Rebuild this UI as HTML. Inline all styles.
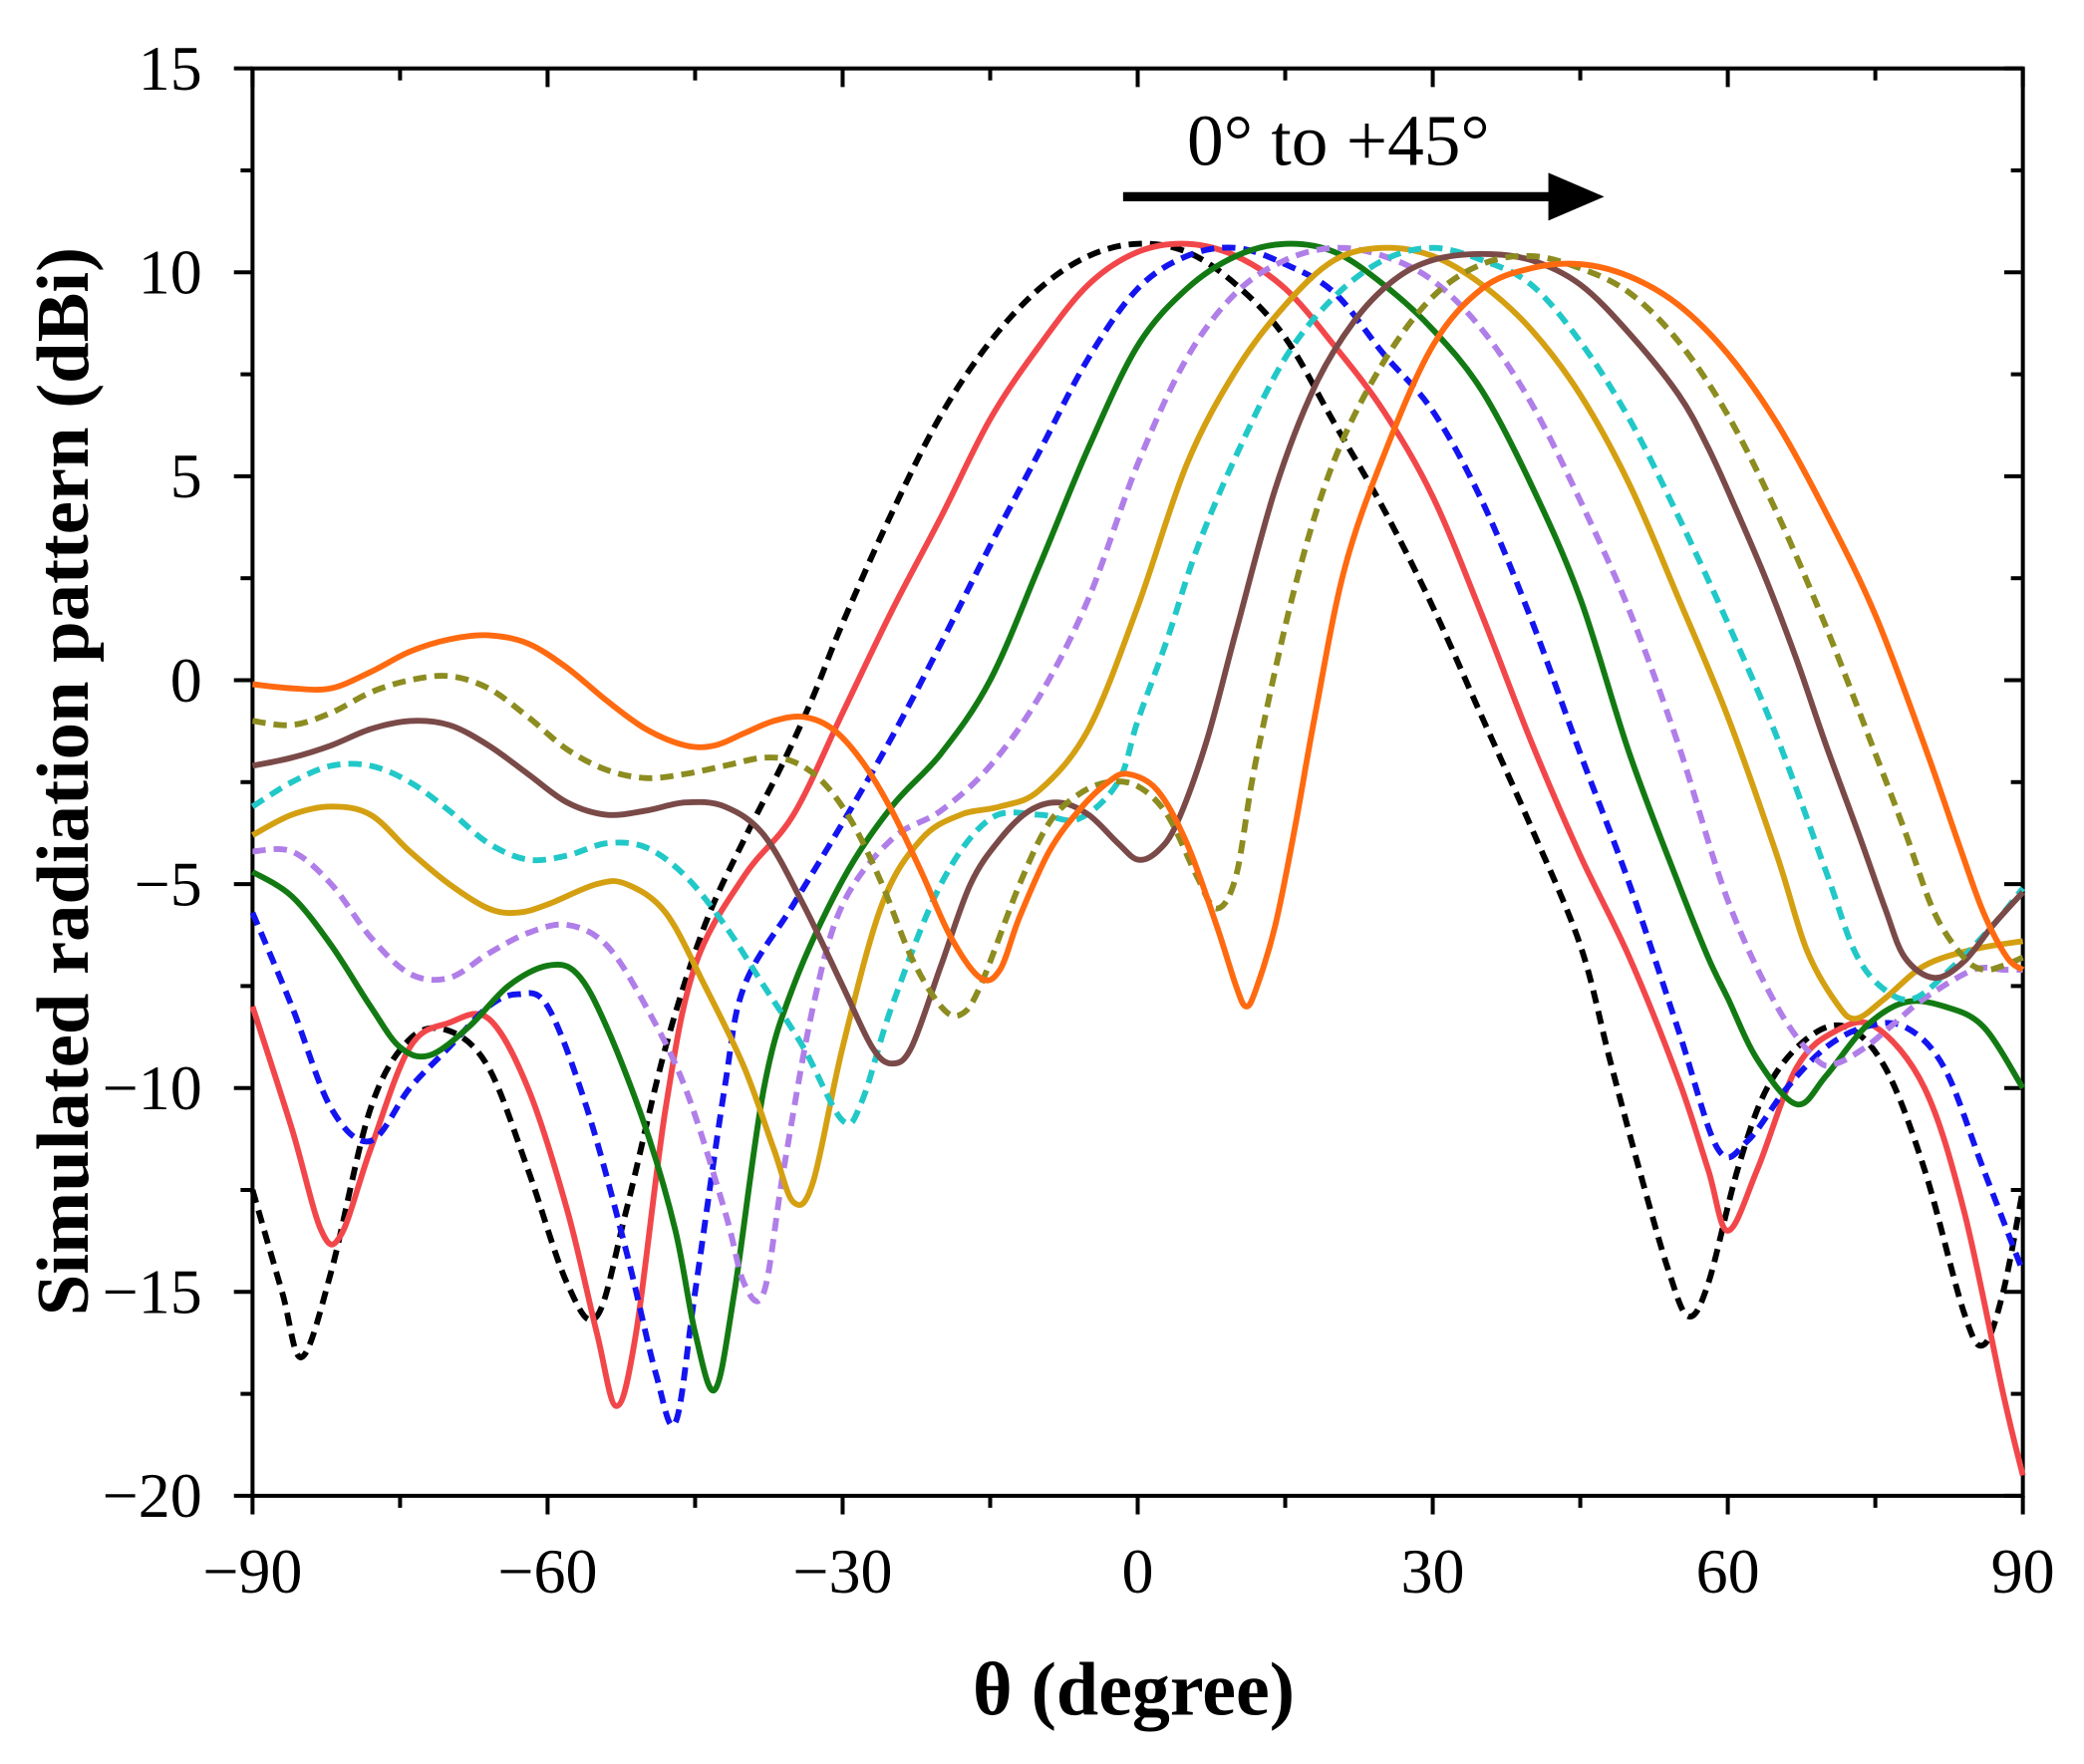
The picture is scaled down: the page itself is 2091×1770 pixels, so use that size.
<!DOCTYPE html>
<html><head><meta charset="utf-8"><style>
html,body{margin:0;padding:0;background:#fff;}
svg{display:block;}
text{font-family:"Liberation Serif",serif;fill:#000;}
</style></head><body>
<svg id="chart" width="2091" height="1770" viewBox="0 0 1568 1327.3" xmlns="http://www.w3.org/2000/svg">
<g id="axes"></g>
<g id="series"></g>
<g id="annot">
  <line x1="845" y1="148" x2="1175" y2="148" stroke="#000" stroke-width="7"/>
  <polygon points="1165,130 1207,148 1165,166" fill="#000"/>
  <text x="1007" y="124" font-size="55" text-anchor="middle">0° to +45°</text>
</g>
<text x="853" y="1290" font-size="57" font-weight="bold" text-anchor="middle">θ (degree)</text>
<text transform="translate(66,588) rotate(-90)" font-size="56" font-weight="bold" text-anchor="middle">Simulated radiation pattern (dBi)</text>
</svg>
<script>
const xTicks=[-90,-60,-30,0,30,60,90];
const yTicks=[15,10,5,0,-5,-10,-15,-20];
const seriesNames=["0deg","5deg","10deg","15deg","20deg","25deg","30deg","35deg","40deg","45deg"];
const seriesColors=["#000000","#f2474a","#1414f0","#137a13","#b07ee8","#d4a012","#22c8c8","#7a4a48","#8c8c20","#ff6a10"];
const seriesDashed=[true,false,true,false,true,false,true,false,true,false];
const s0=[[-90,-12.5],[-87,-15],[-85,-16.6],[-82,-14.5],[-78,-10.5],[-74,-8.8],[-70,-8.6],[-66,-9.5],[-62,-12],[-58,-14.8],[-55,-15.6],[-52,-13],[-48,-9],[-44,-6],[-40,-3.9],[-36,-2],[-33,-0.4],[-30,1.4],[-25,4.1],[-20,6.5],[-15,8.3],[-10,9.6],[-5,10.4],[0,10.7],[5,10.5],[10,9.7],[15,8.4],[20,6.3],[25,4.2],[30,1.8],[35,-0.9],[40,-3.6],[45,-6.5],[48,-9.3],[51,-12],[54,-14.5],[56,-15.6],[58,-14.8],[61,-12],[64,-10],[68,-8.8],[72,-8.5],[76,-9.5],[80,-12],[84,-15.5],[86,-16.3],[88,-15],[90,-12.5]];
const s1=[[-90,-8],[-86,-11],[-83,-13.5],[-81,-13.6],[-78,-11.5],[-74,-9],[-70,-8.4],[-66,-8.3],[-62,-10],[-58,-13],[-55,-16],[-53,-17.8],[-51,-16],[-48,-10.5],[-45,-7],[-40,-4.8],[-35,-3.3],[-30,-0.8],[-25,1.7],[-20,4],[-15,6.4],[-10,8.2],[-5,9.7],[0,10.5],[5,10.7],[10,10.4],[15,9.6],[20,8.2],[25,6.6],[30,4.5],[35,1.6],[40,-1.5],[45,-4.3],[50,-6.8],[55,-9.8],[58,-12],[60,-13.5],[63,-12],[67,-9.5],[71,-8.6],[75,-8.5],[80,-10],[84,-13],[88,-17.5],[90,-19.5]];
const s2=[[-90,-5.7],[-86,-8],[-82,-10.5],[-78,-11.3],[-74,-10],[-70,-9],[-66,-8],[-63,-7.7],[-60,-8],[-56,-10.5],[-52,-14],[-49,-17],[-47,-18.2],[-45,-15],[-42,-10],[-40,-7.5],[-35,-5.5],[-30,-3.5],[-25,-1.4],[-20,0.9],[-15,3.3],[-10,5.6],[-5,7.9],[0,9.6],[5,10.4],[10,10.6],[15,10.2],[20,9.5],[25,8],[30,6.6],[35,4.4],[40,1.5],[45,-1.8],[50,-5],[55,-8.6],[59,-11.5],[62,-11.3],[66,-10],[70,-9],[74,-8.5],[78,-8.5],[82,-9.5],[86,-12],[90,-14.5]];
const s3=[[-90,-4.7],[-86,-5.3],[-82,-6.5],[-78,-8],[-75,-9],[-72,-9.2],[-68,-8.5],[-64,-7.5],[-60,-7],[-57,-7.2],[-54,-8.5],[-50,-11],[-47,-13.5],[-45,-16],[-43,-17.4],[-41,-15],[-38,-10],[-35,-7.5],[-30,-4.9],[-25,-3.1],[-20,-1.8],[-15,0],[-10,2.8],[-5,5.7],[0,8.2],[5,9.6],[10,10.4],[15,10.7],[20,10.5],[25,9.7],[30,8.6],[35,7.1],[40,4.8],[45,2],[50,-1.8],[55,-5],[58,-6.8],[60,-7.8],[63,-9.3],[67,-10.4],[70,-9.7],[74,-8.5],[78,-7.9],[82,-8],[86,-8.5],[90,-10]];
const s4=[[-90,-4.2],[-86,-4.2],[-82,-5],[-78,-6.3],[-74,-7.2],[-70,-7.3],[-66,-6.7],[-62,-6.2],[-58,-6],[-54,-6.5],[-50,-8],[-46,-10],[-42,-13],[-40,-14.8],[-38,-15],[-36,-12],[-33,-8],[-30,-5.5],[-25,-3.9],[-20,-3.2],[-15,-2.1],[-10,-0.4],[-5,2],[0,5.3],[5,7.9],[10,9.5],[15,10.3],[20,10.6],[25,10.4],[30,9.8],[35,8.6],[40,6.8],[45,4.4],[50,1.7],[55,-1.6],[60,-5.4],[65,-8],[69,-9.3],[71,-9.4],[74,-9],[77,-8.4],[80,-7.8],[85,-7.1],[88,-7.1],[90,-7.1]];
const s5=[[-90,-3.8],[-86,-3.3],[-82,-3.1],[-78,-3.3],[-74,-4.2],[-70,-5],[-66,-5.6],[-63,-5.7],[-60,-5.5],[-55,-5],[-52,-5],[-48,-5.7],[-44,-7.5],[-40,-9.5],[-37,-11.5],[-35,-12.8],[-33,-12.3],[-30,-9],[-26,-5.5],[-22,-3.9],[-18,-3.3],[-14,-3.1],[-10,-2.7],[-5,-1.2],[0,1.8],[5,5.3],[10,7.6],[15,9.2],[20,10.3],[25,10.6],[30,10.4],[35,9.7],[40,8.6],[45,7],[50,4.8],[55,2],[60,-0.9],[65,-4.3],[68,-6.6],[71,-7.9],[73,-8.3],[76,-7.8],[80,-7],[85,-6.6],[90,-6.4]];
const s6=[[-90,-3.1],[-86,-2.5],[-82,-2.1],[-78,-2.1],[-74,-2.5],[-70,-3.2],[-66,-4],[-62,-4.4],[-58,-4.3],[-54,-4],[-50,-4.1],[-46,-4.8],[-42,-6],[-38,-7.5],[-34,-9],[-30,-10.8],[-28,-10.3],[-25,-8],[-20,-5],[-15,-3.4],[-10,-3.3],[-6,-3.4],[-2,-2.5],[0,-1],[3,1],[6,3.2],[10,5.5],[15,7.9],[20,9.4],[25,10.3],[30,10.6],[35,10.3],[40,9.7],[45,8.3],[50,6.4],[55,4],[60,1.4],[65,-1.4],[70,-4.7],[73,-6.7],[76,-7.6],[79,-7.8],[83,-7],[87,-6],[90,-5.1]];
const s7=[[-90,-2.1],[-86,-1.9],[-82,-1.6],[-78,-1.2],[-74,-1.0],[-70,-1.1],[-66,-1.6],[-62,-2.3],[-58,-3],[-54,-3.3],[-50,-3.2],[-46,-3],[-42,-3.1],[-38,-3.8],[-34,-5.5],[-30,-7.5],[-27,-9],[-25,-9.4],[-23,-9],[-20,-7],[-17,-5],[-14,-3.9],[-11,-3.2],[-8,-3],[-5,-3.3],[-2,-4],[0,-4.4],[2,-4.2],[4,-3.5],[7,-1.5],[10,1.2],[14,4.7],[18,7.2],[22,8.8],[26,9.8],[30,10.3],[35,10.45],[40,10.3],[45,9.7],[50,8.5],[55,7],[58,5.7],[61,4.1],[64,2.4],[67,0.5],[70,-1.6],[73.5,-3.9],[76,-5.6],[78,-6.8],[81,-7.3],[84,-6.9],[87,-6],[90,-5.2]];
const s8=[[-90,-1],[-86,-1.1],[-82,-0.8],[-78,-0.3],[-74,0],[-70,0.1],[-66,-0.2],[-62,-0.9],[-58,-1.7],[-54,-2.2],[-50,-2.4],[-46,-2.3],[-42,-2.1],[-38,-1.9],[-35,-2],[-32,-2.5],[-29,-3.5],[-26,-5],[-23,-6.8],[-20,-8],[-18,-8.2],[-16,-7.5],[-12,-5],[-9,-3.5],[-6,-2.8],[-3,-2.5],[0,-2.6],[3,-3.3],[6,-4.8],[8,-5.6],[10,-4.8],[12,-2],[16,2.3],[20,5.4],[25,7.8],[30,9.4],[35,10.2],[40,10.4],[45,10.1],[50,9.5],[55,8.3],[60,6.5],[65,4.1],[70,1.3],[75,-1.8],[78,-3.7],[81,-5.7],[84,-6.8],[86,-7.1],[88,-7],[90,-6.8]];
const s9=[[-90,-0.1],[-86,-0.2],[-82,-0.2],[-78,0.2],[-74,0.7],[-70,1],[-66,1.1],[-62,0.9],[-58,0.3],[-54,-0.5],[-50,-1.2],[-46,-1.6],[-43,-1.6],[-40,-1.3],[-37,-1],[-34,-0.9],[-31,-1.2],[-28,-2],[-25,-3.2],[-22,-4.7],[-19,-6.3],[-16,-7.3],[-14,-7.1],[-12,-5.8],[-9,-4.2],[-6,-3.2],[-3,-2.5],[-1,-2.3],[2,-2.7],[5,-4],[8,-6],[10,-7.5],[11,-8],[12,-7.6],[14,-6],[16,-3.6],[18,-0.9],[21,2.7],[25,5.5],[30,8.2],[35,9.6],[40,10.1],[45,10.2],[50,9.9],[55,9.2],[60,8],[65,6.3],[70,4.1],[75,1.6],[80,-1.6],[83.6,-4.1],[86,-5.7],[88.4,-6.8],[90,-7.1]];
const seriesData=[s0,s1,s2,s3,s4,s5,s6,s7,s8,s9];

const X0=190,X1=1522,Y0=51.5,Y1=1125.5;
function sx(t){return X0+(t+90)/180*(X1-X0);}
function sy(v){return Y0+(15-v)/35*(Y1-Y0);}
const NS="http://www.w3.org/2000/svg";
function mk(tag,attrs,parent){const e=document.createElementNS(NS,tag);for(const k in attrs)e.setAttribute(k,attrs[k]);parent.appendChild(e);return e;}
const axes=document.getElementById('axes');
const frame=mk('rect',{x:X0,y:Y0,width:X1-X0,height:Y1-Y0,fill:'none',stroke:'#000','stroke-width':3},axes);


for(let t=-90;t<=90;t+=15){
  const major=t%30===0;const L=major?14:9;
  const a=mk('line',{x1:sx(t),x2:sx(t),y1:Y1,y2:Y1+L,stroke:'#000','stroke-width':3},axes);
  
  
  const b=mk('line',{x1:sx(t),x2:sx(t),y1:Y0,y2:Y0+L,stroke:'#000','stroke-width':3},axes);
  
  
}
xTicks.forEach(t=>{
  const tx=mk('text',{x:sx(t),y:Y1+73,'font-size':48,'text-anchor':'middle'},axes);
  tx.textContent=(t<0?'\u2212'+(-t):String(t));
  
  
});
for(let v=-20;v<=15;v+=2.5){
  const major=v%5===0;const L=major?14:9;
  const a=mk('line',{x1:X0-L,x2:X0,y1:sy(v),y2:sy(v),stroke:'#000','stroke-width':3},axes);
  
  
  const b=mk('line',{x1:X1-L,x2:X1,y1:sy(v),y2:sy(v),stroke:'#000','stroke-width':3},axes);
  
  
}
yTicks.forEach(v=>{
  const tx=mk('text',{x:X0-38,y:sy(v)+16,'font-size':48,'text-anchor':'end'},axes);
  tx.textContent=(v<0?'\u2212'+(-v):String(v));
  
  
});
function pathFor(pts){
  const P=pts.map(p=>[sx(p[0]),sy(p[1])]);
  let d='M'+P[0][0].toFixed(2)+','+P[0][1].toFixed(2);
  for(let i=0;i<P.length-1;i++){
    const p0=P[Math.max(0,i-1)],p1=P[i],p2=P[i+1],p3=P[Math.min(P.length-1,i+2)];
    const c1=[p1[0]+(p2[0]-p0[0])/6,p1[1]+(p2[1]-p0[1])/6];
    const c2=[p2[0]-(p3[0]-p1[0])/6,p2[1]-(p3[1]-p1[1])/6];
    d+=' C'+c1.map(n=>n.toFixed(2)).join(',')+' '+c2.map(n=>n.toFixed(2)).join(',')+' '+p2.map(n=>n.toFixed(2)).join(',');
  }
  return d;
}
const sg=document.getElementById('series');
seriesData.forEach((pts,i)=>{
  const p=mk('path',{d:pathFor(pts),fill:'none',stroke:seriesColors[i],'stroke-width':4.4,'stroke-linejoin':'round'},sg);
  if(seriesDashed[i])p.setAttribute('stroke-dasharray','10 6');
  
  
});
</script>
</body></html>
